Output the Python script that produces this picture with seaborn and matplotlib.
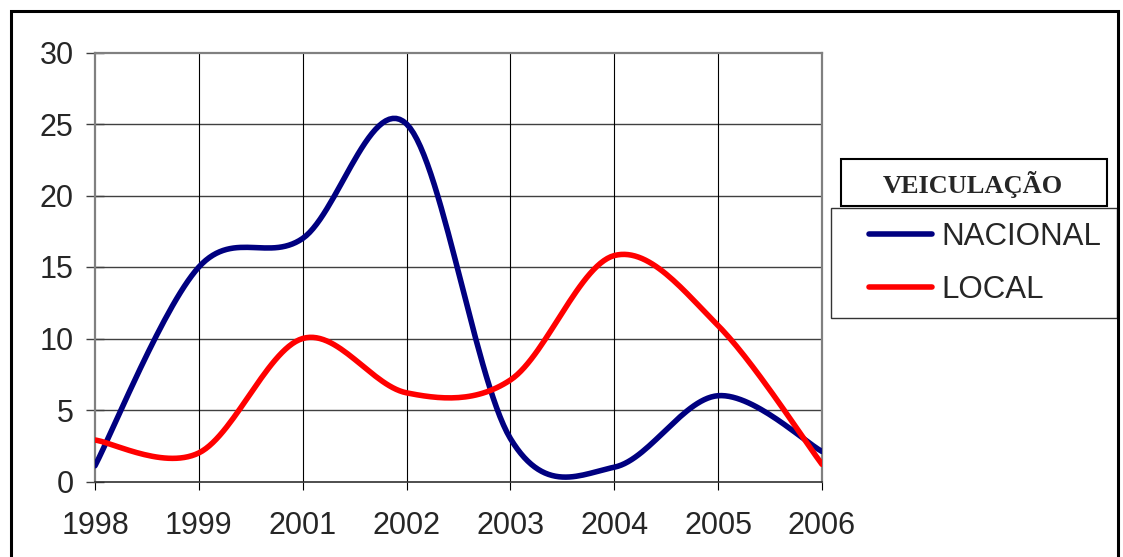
import numpy as np
import pandas as pd
import seaborn as sns
import matplotlib
matplotlib.use("Agg")
import matplotlib.pyplot as plt
from matplotlib.patches import Rectangle

# dados
anos = ["1998", "1999", "2001", "2002", "2003", "2004", "2005", "2006"]
nacional = [1.1, 15.0, 17.0, 25.0, 3.0, 1.0, 6.0, 2.1]
local = [2.9, 2.0, 10.0, 6.2, 7.1, 15.8, 10.9, 1.2]
series = {"NACIONAL": nacional, "LOCAL": local}
cores = {"NACIONAL": "#000080", "LOCAL": "#FF0000"}
yticks = [0, 5, 10, 15, 20, 25, 30]


def suaviza(vals, n=30):
    # linha suavizada tipo Excel (bezier pelos pontos)
    px = np.arange(len(vals), dtype=float)
    py = np.asarray(vals, dtype=float)
    ex = np.concatenate([[px[0]], px, [px[-1]]])
    ey = np.concatenate([[py[0]], py, [py[-1]]])
    t = np.linspace(0, 1, n, endpoint=False)
    xs, ys = [], []
    for i in range(len(vals) - 1):
        for e, out in ((ex, xs), (ey, ys)):
            p0, p1, p2, p3 = e[i], e[i + 1], e[i + 2], e[i + 3]
            c1 = p1 + (p2 - p0) / 6
            c2 = p2 - (p3 - p1) / 6
            out.extend((1 - t) ** 3 * p1 + 3 * (1 - t) ** 2 * t * c1
                       + 3 * (1 - t) * t ** 2 * c2 + t ** 3 * p2)
    xs.append(px[-1])
    ys.append(py[-1])
    return xs, ys


rows = []
for nome, vals in series.items():
    xs, ys = suaviza(vals)
    for k, (a, b) in enumerate(zip(xs, ys)):
        rows.append({"x": a, "y": b, "VEICULAÇÃO": nome, "ordem": k})
df = pd.DataFrame(rows)

sns.set_style("white")
plt.rcParams["font.family"] = ["Liberation Sans", "DejaVu Sans"]

fig = plt.figure(figsize=(11.23, 5.57), dpi=100)
ax = fig.add_axes([95 / 1123, 1 - 481.5 / 557, 727 / 1123, 429 / 557])

ax.grid(False)
for v in yticks[1:-1]:
    ax.axhline(v, color="#404040", lw=1.0, zorder=1)
for i in range(1, len(anos) - 1):
    ax.axvline(i, color="black", lw=0.8, zorder=1)

sns.lineplot(data=df, x="x", y="y", hue="VEICULAÇÃO", palette=cores,
             sort=False, estimator=None, lw=4.0, ax=ax, zorder=3)

ax.set_xlim(0, len(anos) - 1)
ax.set_ylim(0, 30)
ax.set_xticks(range(len(anos)))
ax.set_xticklabels(anos)
ax.set_yticks(yticks)
ax.set_xlabel("")
ax.set_ylabel("")
ax.tick_params(axis="x", direction="out", length=6, width=0.8, color="black",
               labelsize=22, pad=15, bottom=True)
ax.tick_params(axis="y", direction="inout", length=13, width=1.0, color="#404040",
               labelsize=22, pad=9, left=True)
for s in ["left", "top", "right"]:
    ax.spines[s].set_color("#808080")
    ax.spines[s].set_linewidth(1.6)
ax.spines["bottom"].set_color("#303030")
ax.spines["bottom"].set_linewidth(1.2)

handles, labels = ax.get_legend_handles_labels()
ax.legend(handles, labels, loc="upper left", bbox_to_anchor=(869 / 1123, 1 - 222 / 557),
          bbox_transform=fig.transFigure, frameon=False, fontsize=22.5,
          handlelength=2.0, handletextpad=0.3, labelspacing=0.72,
          borderpad=0, borderaxespad=0)

# caixas da legenda e moldura
def caixa(x0, y0, x1, y1, lw, cor):
    fig.patches.append(Rectangle((x0 / 1123, 1 - y1 / 557), (x1 - x0) / 1123,
                                 (y1 - y0) / 557, transform=fig.transFigure,
                                 fill=False, lw=lw, edgecolor=cor))

caixa(841, 159, 1107, 206, 1.5, "black")
caixa(831, 208, 1117, 318, 1.0, "#333333")
caixa(10.5, 10.5, 1117.5, 600, 2.2, "black")
fig.text(973 / 1123, 1 - 184 / 557, "VEICULAÇÃO", ha="center", va="center",
         fontsize=19, fontweight="bold", family=["Liberation Serif", "DejaVu Serif"])

fig.savefig("out.png", dpi=100)
